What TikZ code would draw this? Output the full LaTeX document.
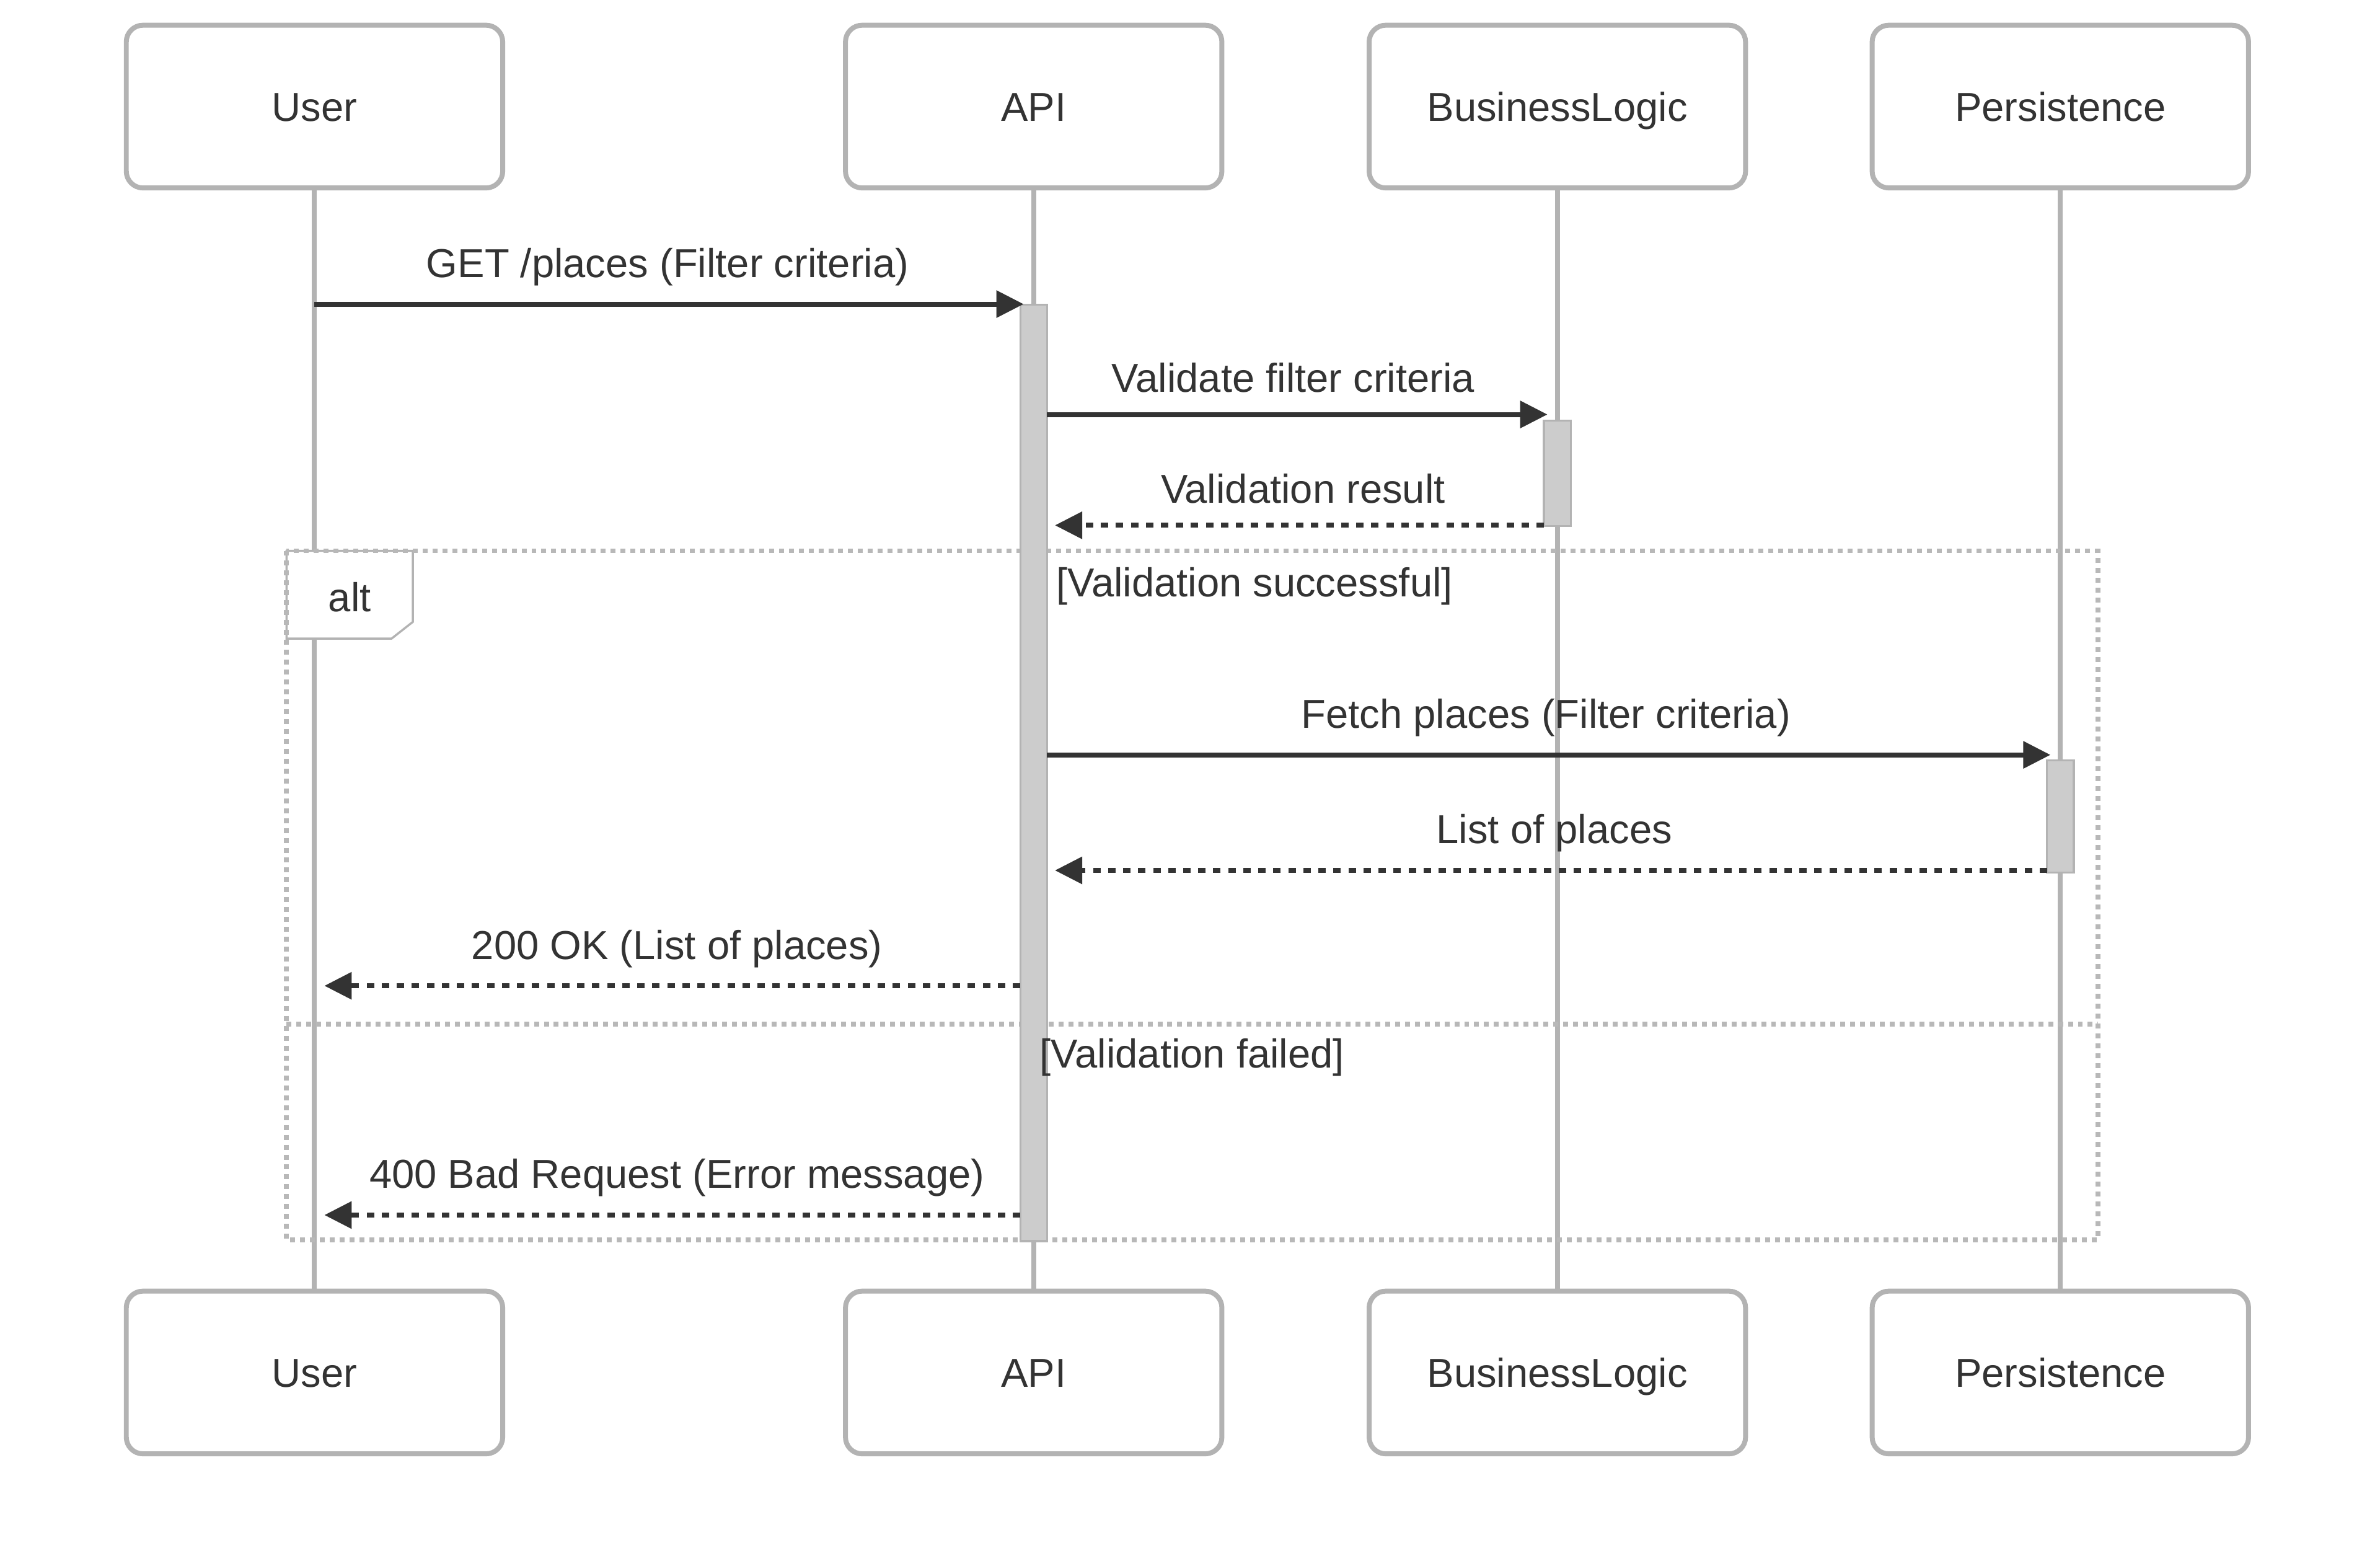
\documentclass[tikz,border=0pt]{standalone}
\usepackage{fontspec}
\setmainfont{Liberation Sans}
\usetikzlibrary{arrows.meta}
\definecolor{txt}{HTML}{333333}
\definecolor{ln}{HTML}{B3B3B3}
\definecolor{actfill}{HTML}{CCCCCC}
\definecolor{frm}{HTML}{B8B8B8}
\begin{document}
\begin{tikzpicture}[x=0.5pt,y=-0.5pt,
  every node/.style={text=txt, font=\fontsize{13.3pt}{16pt}\selectfont, inner sep=0pt, text height=9.5pt, text depth=0pt},
  actor/.style={draw=ln, line width=1.63pt, rounded corners=5.5pt, fill=white, minimum width=124pt, minimum height=53.6pt},
  lifeline/.style={draw=ln, line width=1.63pt},
  actbar/.style={draw=ln, fill=actfill, line width=0.7pt, minimum width=8.8pt, anchor=north},
  altframe/.style={draw=frm, line width=1.63pt, dash pattern=on 1.63pt off 1.63pt},
  labelbox/.style={draw=ln, fill=white, line width=0.7pt},
  msg/.style={draw=txt, line width=1.63pt, -{Triangle[length=9pt,width=8.7pt]}},
  ret/.style={msg, dash pattern=on 2.45pt off 2.5pt}]
\useasboundingbox (0,0) rectangle (1568,1028);
% participants
\node[actor] (uT) at (207.2,70.2) {User};
\node[actor] (aT) at (681,70.2) {API};
\node[actor] (bT) at (1026,70.2) {BusinessLogic};
\node[actor] (pT) at (1357.4,70.2) {Persistence};
\node[actor] (uB) at (207.2,904) {User};
\node[actor] (aB) at (681,904) {API};
\node[actor] (bB) at (1026,904) {BusinessLogic};
\node[actor] (pB) at (1357.4,904) {Persistence};
% lifelines
\draw[lifeline] (uT.south) -- (uB.north);
\draw[lifeline] (aT.south) -- (aB.north);
\draw[lifeline] (bT.south) -- (bB.north);
\draw[lifeline] (pT.south) -- (pB.north);
% alt label box
\draw[labelbox] (188.8,362.8) -- (272,362.8) -- (272,409.6) -- (258,420.6) -- (188.8,420.6) -- cycle;
\node (altlbl) at (230.4,393.5) {alt};
% alt frame
\draw[altframe] (188.8,362.8) rectangle (1382,816.7);
\draw[altframe] (188.8,674.4) -- (1382,674.4);
% activations
\node[actbar, minimum height=308.35pt] (actA) at (681,200) {};
\node[actbar, minimum height=34.7pt] (actB) at (1026,276.3) {};
\node[actbar, minimum height=36.9pt] (actP) at (1357.4,500.2) {};
% section labels
\node (sec1) at (826.5,383.4) {[Validation successful]};
\node (sec2) at (785.4,693.9) {[Validation failed]};
% message endpoints
\coordinate (m1s) at (207.2,200.3);  \coordinate (m1e) at (674.4,200.3);
\coordinate (m2s) at (689.8,273);    \coordinate (m2e) at (1019.5,273);
\coordinate (m3s) at (1017.2,346);   \coordinate (m3e) at (695,346);
\coordinate (m4s) at (689.8,497.2);  \coordinate (m4e) at (1350.9,497.2);
\coordinate (m5s) at (1348.7,573.3); \coordinate (m5e) at (695,573.3);
\coordinate (m6s) at (672.2,649.3);  \coordinate (m6e) at (213.7,649.3);
\coordinate (m7s) at (672.2,800.3);  \coordinate (m7e) at (213.7,800.3);
% messages
\draw[msg] (m1s) -- (m1e);
\draw[msg] (m2s) -- (m2e);
\draw[ret] (m3s) -- (m3e);
\draw[msg] (m4s) -- (m4e);
\draw[ret] (m5s) -- (m5e);
\draw[ret] (m6s) -- (m6e);
\draw[ret] (m7s) -- (m7e);
% message labels
\node (l1) at (439.8,173.2) {GET /places (Filter criteria)};
\node (l2) at (852,248.8) {Validate filter criteria};
\node (l3) at (858.5,321.8) {Validation result};
\node (l4) at (1018.5,470.1) {Fetch places (Filter criteria)};
\node (l5) at (1024,546.2) {List of places};
\node (l6) at (446,622.2) {200 OK (List of places)};
\node (l7) at (446,773.2) {400 Bad Request (Error message)};
\end{tikzpicture}
\end{document}
